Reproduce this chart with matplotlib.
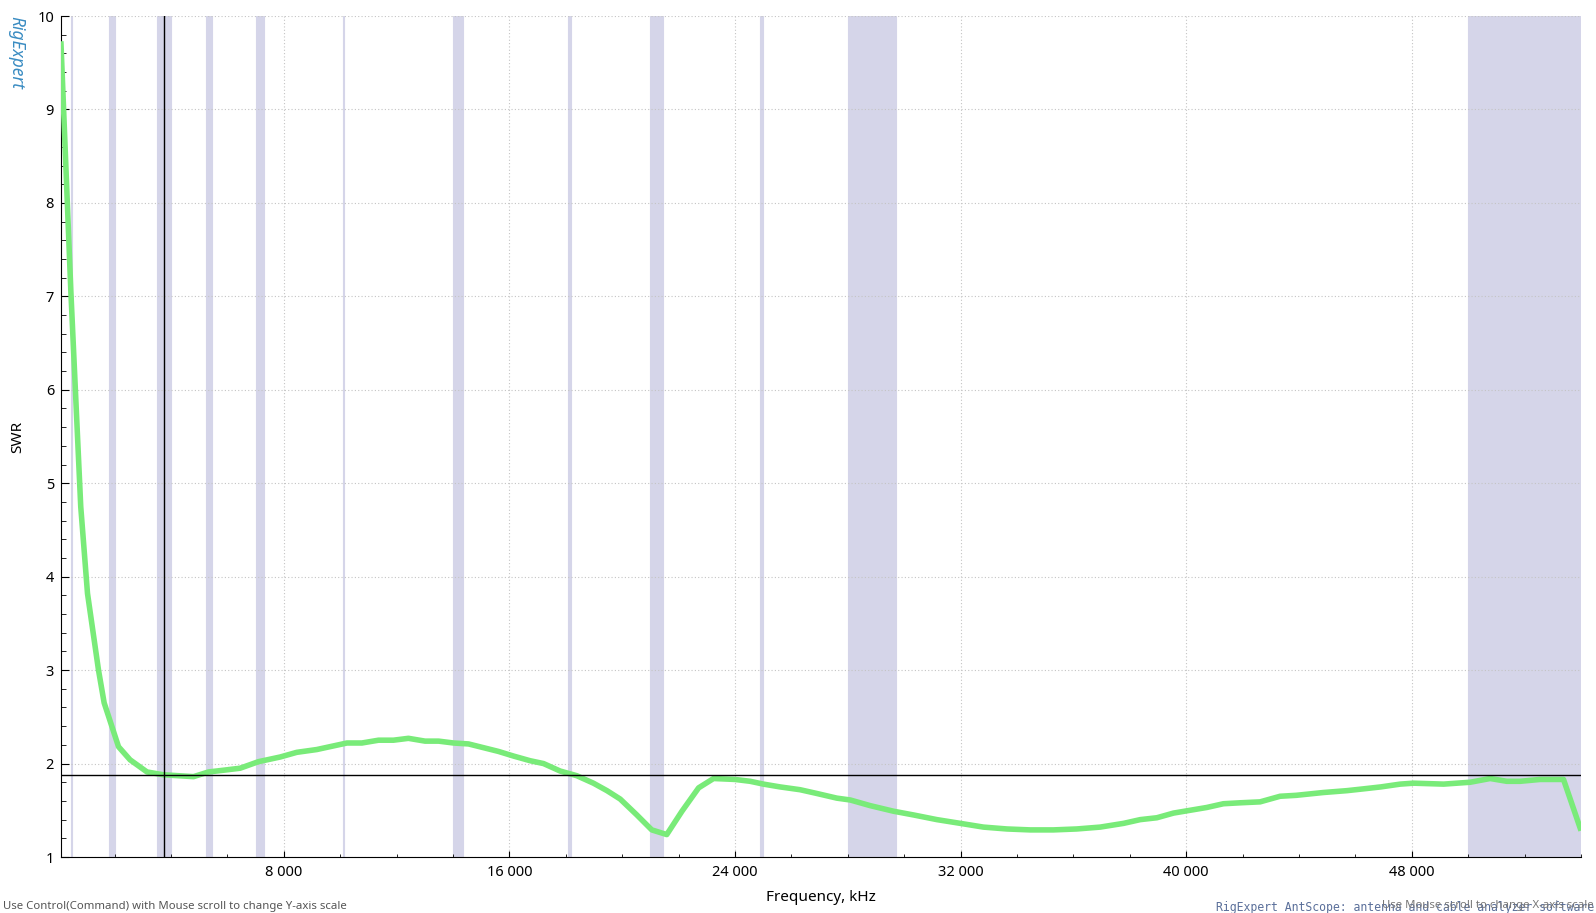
import matplotlib.pyplot as plt
from matplotlib.ticker import MultipleLocator, FuncFormatter

# sweep data
freq_khz = [100, 450, 800, 1040, 1430, 1630, 2140, 2550, 3150, 3730, 4250, 4800,
            5330, 5900, 6450, 7100, 7870, 8460, 9170, 10240, 10770, 11360, 11890,
            12420, 13010, 13490, 14020, 14550, 15080, 15610, 16150, 16740, 17210,
            17800, 18390, 18980, 19460, 19930, 20520, 21050, 21580, 22120, 22710,
            23240, 24000, 24540, 25010, 25600, 26310, 26900, 27610, 28090, 28790,
            29620, 30330, 31160, 31990, 32810, 33640, 34470, 35290, 36120, 36950,
            37780, 38370, 38960, 39550, 40140, 40730, 41320, 41910, 42620, 43330,
            43900, 44860, 45700, 46310, 46900, 47590, 48060, 49130, 50070, 50780,
            51370, 51840, 52550, 53380, 53970]
swr = [9.7, 7.05, 4.75, 3.82, 3.0, 2.65, 2.18, 2.04, 1.91, 1.88, 1.87, 1.86,
       1.91, 1.93, 1.95, 2.02, 2.07, 2.12, 2.15, 2.22, 2.22, 2.25, 2.25,
       2.27, 2.24, 2.24, 2.22, 2.21, 2.17, 2.13, 2.08, 2.03, 2.0,
       1.92, 1.87, 1.79, 1.71, 1.62, 1.45, 1.29, 1.24, 1.49, 1.74,
       1.84, 1.83, 1.81, 1.78, 1.75, 1.72, 1.68, 1.63, 1.61, 1.55,
       1.49, 1.45, 1.40, 1.36, 1.32, 1.30, 1.29, 1.29, 1.30, 1.32,
       1.36, 1.40, 1.42, 1.47, 1.50, 1.53, 1.57, 1.58, 1.59, 1.65,
       1.66, 1.69, 1.71, 1.73, 1.75, 1.78, 1.79, 1.78, 1.80, 1.84,
       1.81, 1.81, 1.83, 1.83, 1.31]

# amateur bands (kHz)
band_lo = [472, 1810, 3500, 5250, 7000, 10100, 14000, 18068, 21000, 24890, 28000, 50000]
band_hi = [479, 2000, 4000, 5450, 7300, 10150, 14350, 18168, 21450, 24990, 29700, 54000]

cursor_f = 3770
cursor_swr = 1.875

plt.rcParams['font.family'] = ['Noto Sans', 'DejaVu Sans']

fig = plt.figure(figsize=(15.96, 9.13), dpi=100)
ax = fig.add_axes([61/1596, 1 - 857/913, 1520/1596, 841/913])

band_col = '#d5d5e9'
for lo, hi in zip(band_lo, band_hi):
    ax.axvspan(lo, hi, facecolor=band_col, edgecolor=band_col, lw=0.8, zorder=0)

ax.grid(True, which='major', color='#c4c4c4', linestyle=(0, (1, 2)), linewidth=0.8, zorder=1)

ax.plot(freq_khz, swr, color='#79eb79', lw=4, solid_joinstyle='round', zorder=3)

# cursor
ax.axvline(cursor_f, color='black', lw=1, zorder=4)
ax.axhline(cursor_swr, color='black', lw=1, zorder=4)

ax.set_xlim(100, 54000)
ax.set_ylim(1, 10)
ax.xaxis.set_major_locator(MultipleLocator(8000))
ax.xaxis.set_minor_locator(MultipleLocator(2000))
ax.yaxis.set_major_locator(MultipleLocator(1))
ax.yaxis.set_minor_locator(MultipleLocator(0.2))
ax.xaxis.set_major_formatter(FuncFormatter(lambda v, p: '{:,}'.format(int(v)).replace(',', ' ')))

ax.spines['top'].set_visible(False)
ax.spines['right'].set_visible(False)
ax.tick_params(axis='both', which='both', direction='in', labelsize=10.5, colors='black')
ax.tick_params(axis='y', which='major', length=6, pad=5)
ax.tick_params(axis='y', which='minor', length=3.5)
ax.tick_params(axis='x', which='major', length=4, pad=6)
ax.tick_params(axis='x', which='minor', length=2.5)

ax.set_ylabel('SWR', fontsize=11)
ax.yaxis.set_label_coords(-0.0235, 0.5)
ax.set_xlabel('Frequency, kHz', fontsize=11)
ax.xaxis.set_label_coords(0.5, -0.039)

fig.text(16/1596, 1 - 52/913, 'RigExpert', rotation=270, color='#3a8cc2', fontsize=12.5,
         style='italic', ha='center', va='center')
fig.text(3/1596, 1 - 906/913, 'Use Control(Command) with Mouse scroll to change Y-axis scale',
         fontsize=8.2, color='#555555', ha='left', va='center')
fig.text(1594/1596, 1 - 907/913, 'RigExpert AntScope: antenna and cable analyzer software',
         fontsize=8.3, color='#5a6f9a', family='DejaVu Sans Mono', ha='right', va='center')
fig.text(1594/1596, 1 - 905/913, 'Use Mouse scroll to change X-axis scale',
         fontsize=8.2, color='#777777', ha='right', va='center')

fig.savefig('out.png', dpi=100)
